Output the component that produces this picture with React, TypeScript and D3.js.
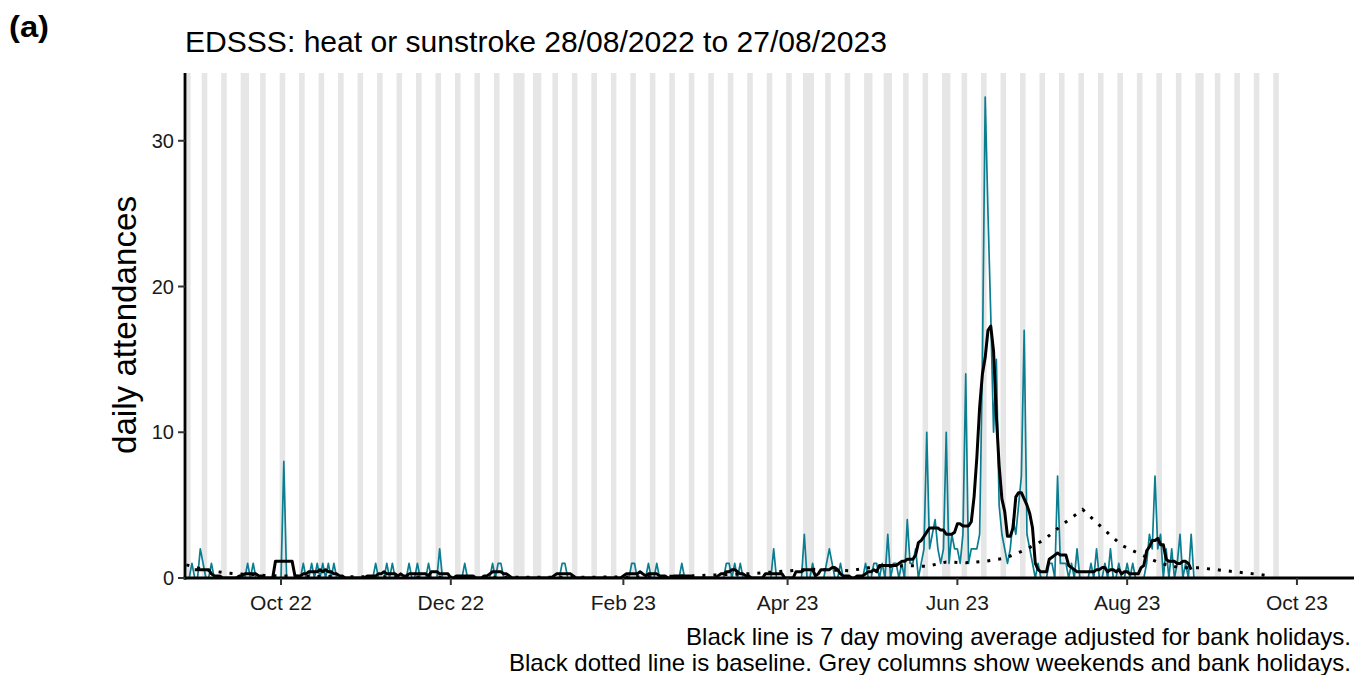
import React from "react";
import * as d3 from "d3";

// ---------- data ----------
const startDate = "2022-08-28"; // first day of the daily series (a Sunday)

// Daily attendances, one value per day from 28/08/2022; each row is one week (Sun..Sat)
const dailyAttendances: number[] = [
  0, 0, 1, 0, 0, 2, 1,
  0, 0, 1, 0, 0, 0, 0,
  0, 0, 0, 0, 0, 0, 0,
  0, 1, 0, 1, 0, 0, 0,
  0, 0, 0, 0, 0, 0, 0,
  8, 0, 0, 0, 0, 0, 0,
  1, 0, 0, 1, 0, 1, 0,
  1, 0, 1, 0, 1, 0, 0,
  0, 0, 0, 0, 0, 0, 0,
  0, 0, 0, 0, 0, 1, 0,
  0, 0, 1, 0, 1, 0, 0,
  0, 0, 0, 1, 0, 0, 1,
  0, 0, 0, 1, 0, 0, 0,
  2, 0, 0, 0, 0, 0, 0,
  0, 0, 1, 0, 0, 0, 0,
  0, 0, 0, 0, 0, 1, 0,
  1, 1, 0, 0, 0, 0, 0,
  0, 0, 0, 0, 0, 0, 0,
  0, 0, 0, 0, 0, 0, 0,
  0, 0, 1, 1, 0, 0, 0,
  0, 0, 0, 0, 0, 0, 0,
  0, 0, 0, 0, 0, 0, 0,
  0, 0, 0, 0, 0, 0, 1,
  1, 0, 0, 0, 0, 1, 0,
  0, 1, 0, 0, 0, 0, 0,
  0, 0, 0, 1, 0, 0, 0,
  0, 0, 0, 0, 0, 0, 0,
  0, 0, 0, 0, 0, 1, 1,
  0, 1, 0, 1, 0, 0, 0,
  0, 0, 0, 0, 0, 0, 0,
  0, 2, 0, 0, 0, 0, 0,
  0, 0, 0, 0, 0, 3, 0,
  0, 1, 0, 0, 0, 0, 1,
  2, 1, 0, 0, 1, 0, 0,
  0, 0, 0, 0, 0, 0, 1,
  0, 0, 1, 1, 0, 1, 0,
  3, 0, 1, 1, 0, 1, 0,
  4, 1, 1, 2, 0, 1, 2,
  10, 2, 3, 4, 2, 1, 2,
  10, 1, 3, 2, 2, 1, 3,
  14, 1, 2, 2, 2, 3, 15,
  33, 25, 18, 10, 15, 5, 3,
  2, 1, 2, 4, 3, 5, 7,
  17, 3, 2, 1, 0, 1, 0,
  0, 0, 1, 1, 0, 7, 1,
  1, 1, 0, 1, 0, 2, 0,
  0, 0, 0, 1, 0, 2, 0,
  0, 1, 0, 2, 0, 0, 1,
  0, 0, 1, 0, 1, 0, 0,
  0, 0, 1, 3, 2, 7, 2,
  3, 0, 2, 0, 2, 0, 1,
  3, 0, 1, 0, 3, 0, 0,
  0,
];

// Baseline (dotted line): day offset from start date and expected daily count
const baselineDay: number[] = [
  0, 7, 14, 21, 28, 35, 42, 49, 56, 63, 70, 77, 84, 91, 98, 105, 112, 119, 126,
  133, 140, 147, 154, 161, 168, 175, 182, 189, 196, 203, 210, 217, 224, 231, 238,
  245, 252, 259, 266, 273, 280, 287, 294, 301, 308, 315, 322, 329, 336, 343, 350,
  357, 364, 371, 378, 385, 390,
];
const baselineValue: number[] = [
  0.9, 0.55, 0.35, 0.25, 0.18, 0.14, 0.12, 0.1, 0.1, 0.08, 0.08, 0.07, 0.07, 0.06,
  0.06, 0.05, 0.05, 0.05, 0.05, 0.05, 0.05, 0.06, 0.07, 0.08, 0.1, 0.12, 0.15, 0.2,
  0.25, 0.3, 0.4, 0.5, 0.6, 0.55, 0.5, 0.7, 0.8, 0.85, 0.8, 1.1, 1.05, 1.15, 1.35,
  1.9, 2.6, 3.7, 4.7, 3.45, 2.25, 1.6, 1.0, 0.7, 0.7, 0.55, 0.4, 0.25, 0.12,
];

const bankHolidays: string[] = [
  "2022-08-29", "2022-09-19", "2022-12-26", "2022-12-27", "2023-01-02",
  "2023-04-07", "2023-04-10", "2023-05-01", "2023-05-08", "2023-05-29", "2023-08-28",
];
const shadedDays = 393; // grey columns drawn through 24/09/2023

const xTickDates: string[] = [
  "2022-10-01", "2022-12-01", "2023-02-01", "2023-04-01", "2023-06-01", "2023-08-01", "2023-10-01",
];
const yTicks: number[] = [0, 10, 20, 30];

const titleText = "EDSSS: heat or sunstroke 28/08/2022 to 27/08/2023";
const panelLabel = "(a)";
const yLabel = "daily attendances";
const captionLines = [
  "Black line is 7 day moving average adjusted for bank holidays.",
  "Black dotted line is baseline. Grey columns show weekends and bank holidays.",
];

// ---------- chart ----------
const W = 1354;
const H = 675;
const DAY = 86400000;
const FONT = "'Liberation Sans', Arial, Helvetica, sans-serif";

export default function App() {
  const t0 = new Date(startDate + "T00:00:00Z").getTime();
  const dateOf = (i: number) => new Date(t0 + i * DAY);

  const panel = { left: 185, right: 1354, top: 73, bottom: 578 };
  const x = d3
    .scaleUtc()
    .domain([dateOf(-0.5), dateOf(419.5)])
    .range([panel.left, panel.right]);
  const y = d3.scaleLinear().domain([0, 34.65]).range([panel.bottom, panel.top]);

  // grey columns: weekends + bank holidays, merged into runs
  const bh = new Set(bankHolidays);
  const isGrey = (i: number) => {
    const d = dateOf(i);
    const dow = d.getUTCDay();
    return dow === 0 || dow === 6 || bh.has(d3.utcFormat("%Y-%m-%d")(d));
  };
  const runs: [number, number][] = [];
  for (let i = 0; i < shadedDays; i++) {
    if (!isGrey(i)) continue;
    const last = runs[runs.length - 1];
    if (last && last[1] === i - 1) last[1] = i;
    else runs.push([i, i]);
  }

  const daily = dailyAttendances.map((v, i) => ({ date: dateOf(i), v }));
  // 7-day centred moving average of the daily series (as stated in the caption)
  const ma = daily
    .map((d, i) => {
      if (i < 3 || i > daily.length - 4) return null;
      return { date: d.date, v: d3.mean(daily.slice(i - 3, i + 4), (e) => e.v) as number };
    })
    .filter((d): d is { date: Date; v: number } => d !== null);
  const base = baselineDay.map((d, i) => ({ date: dateOf(d), v: baselineValue[i] }));

  const line = d3
    .line<{ date: Date; v: number }>()
    .x((d) => x(d.date))
    .y((d) => y(d.v));

  const fmt = d3.utcFormat("%b %y");

  return (
    <svg width={W} height={H} style={{ display: "block", position: "absolute", left: 0, top: 0, background: "#fff" }}>
      <defs>
        <clipPath id="panel">
          <rect x={panel.left} y={panel.top} width={panel.right - panel.left} height={panel.bottom - panel.top} />
        </clipPath>
      </defs>
      <rect x={0} y={0} width={W} height={H} fill="#fff" />
      <g clipPath="url(#panel)">
        {runs.map(([a, b]) => (
          <rect
            key={a}
            x={x(dateOf(a - 0.5))}
            y={panel.top}
            width={x(dateOf(b + 0.5)) - x(dateOf(a - 0.5))}
            height={panel.bottom - panel.top}
            fill="#e6e6e6"
          />
        ))}
        <path d={line(daily) ?? ""} fill="none" stroke="#0b7d91" strokeWidth={1.7} strokeLinejoin="round" />
        <path d={line(ma) ?? ""} fill="none" stroke="#000" strokeWidth={3} strokeLinejoin="round" />
        <path
          d={line(base) ?? ""}
          fill="none"
          stroke="#000"
          strokeWidth={3}
          strokeDasharray="3 8"
        />
      </g>

      {/* axes */}
      <line x1={panel.left} x2={panel.left} y1={panel.top} y2={panel.bottom + 1.4} stroke="#000" strokeWidth={2.8} />
      <line x1={panel.left - 1.4} x2={panel.right} y1={panel.bottom} y2={panel.bottom} stroke="#000" strokeWidth={2.8} />
      {yTicks.map((t) => (
        <g key={t}>
          <line x1={panel.left - 7} x2={panel.left} y1={y(t)} y2={y(t)} stroke="#333" strokeWidth={2} />
          <text
            x={panel.left - 11}
            y={y(t)}
            textAnchor="end"
            dominantBaseline="central"
            fontFamily={FONT}
            fontSize={20}
            fill="#1a1a1a"
          >
            {t}
          </text>
        </g>
      ))}
      {xTickDates.map((s) => {
        const d = new Date(s + "T00:00:00Z");
        const px = x(d);
        return (
          <g key={s}>
            <line x1={px} x2={px} y1={panel.bottom} y2={panel.bottom + 7} stroke="#333" strokeWidth={2} />
            <text x={px} y={610} textAnchor="middle" fontFamily={FONT} fontSize={21} fill="#1a1a1a">
              {fmt(d)}
            </text>
          </g>
        );
      })}

      {/* labels */}
      <text
        transform={`translate(136, 325) rotate(-90)`}
        textAnchor="middle"
        fontFamily={FONT}
        fontSize={33}
        fill="#000"
        textLength={258}
        lengthAdjust="spacingAndGlyphs"
      >
        {yLabel}
      </text>
      <text x={9} y={37} fontFamily={FONT} fontSize={30} fontWeight="bold" fill="#000" textLength={40} lengthAdjust="spacingAndGlyphs">
        {panelLabel}
      </text>
      <text x={185} y={52} fontFamily={FONT} fontSize={29} fill="#000" textLength={702} lengthAdjust="spacingAndGlyphs">
        {titleText}
      </text>
      {captionLines.map((c, i) => (
        <text
          key={i}
          x={1351}
          y={645 + i * 26}
          textAnchor="end"
          fontFamily={FONT}
          fontSize={24}
          fill="#000"
          textLength={i === 0 ? 665 : 842}
          lengthAdjust="spacingAndGlyphs"
        >
          {c}
        </text>
      ))}
    </svg>
  );
}
